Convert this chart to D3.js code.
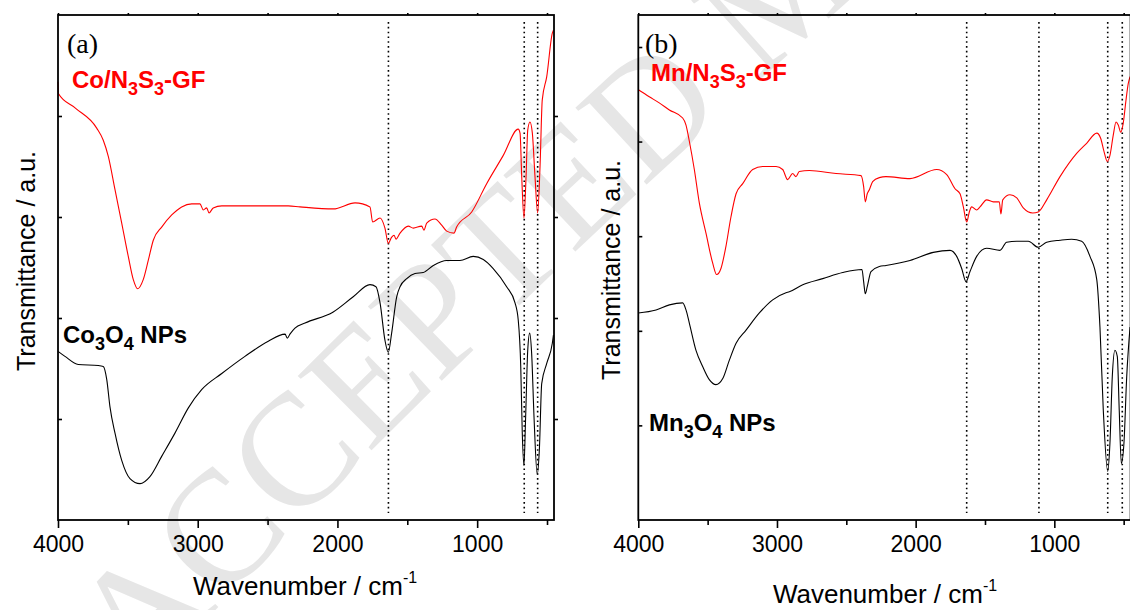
<!DOCTYPE html>
<html>
<head>
<meta charset="utf-8">
<script src="https://cdn.jsdelivr.net/npm/d3@7"></script>
<style>
  body { margin: 0; background: #fff; }
  svg { display: block; }
</style>
</head>
<body>
<svg id="chart" width="1130" height="610"></svg>
<script>
// FTIR spectra, [wavenumber cm-1, transmittance a.u.]
var coGF = [[4000,4.34],[3996,4.22],[3878,4.08],[3723,3.88],[3676,3.76],[3640,3.60],[3592,3.27],[3544,2.94],
  [3497,2.61],[3461,2.38],[3430,2.29],[3390,2.38],[3354,2.57],[3318,2.77],[3258,2.90],[3186,3.02],[3115,3.10],
  [3043,3.13],[2984,3.13],[2960,3.07],[2936,3.09],[2919,3.04],[2889,3.09],[2828,3.11],[2590,3.11],[2352,3.11],
  [2268,3.10],[2030,3.08],[1874,3.14],[1767,3.10],[1748,2.95],[1695,2.99],[1660,2.89],[1636,2.74],[1612,2.80],
  [1595,2.82],[1581,2.78],[1552,2.84],[1493,2.91],[1457,2.89],[1397,2.91],[1381,2.87],[1361,2.94],[1302,2.98],
  [1254,2.92],[1218,2.86],[1166,2.84],[1147,2.90],[1039,3.05],[932,3.33],[813,3.61],[706,3.87],[693,3.83],
  [681,3.40],[665,2.99],[650,3.40],[638,3.86],[622,3.94],[605,3.83],[586,3.40],[567,3.04],[550,3.50],
  [534,4.16],[502,4.39],[462,4.82],[454,4.85]];

var co3o4 = [[4000,1.67],[3950,1.62],[3855,1.54],[3712,1.53],[3676,1.52],[3651,1.39],[3628,1.12],[3592,0.86],
  [3544,0.59],[3485,0.41],[3413,0.36],[3342,0.43],[3258,0.63],[3163,0.86],[3067,1.11],[2972,1.29],[2828,1.45],
  [2662,1.62],[2495,1.77],[2375,1.84],[2359,1.80],[2340,1.84],[2304,1.90],[2232,1.95],[2030,2.06],[1887,2.21],
  [1767,2.33],[1724,2.31],[1695,2.15],[1660,1.78],[1636,1.66],[1612,1.85],[1576,2.21],[1552,2.31],[1504,2.39],
  [1445,2.44],[1386,2.45],[1314,2.52],[1218,2.57],[1123,2.57],[1028,2.61],[956,2.58],[885,2.49],[789,2.31],
  [729,2.15],[706,1.98],[688,1.52],[677,0.86],[665,0.54],[653,1.02],[638,1.68],[624,1.85],[610,1.65],
  [593,1.02],[570,0.45],[555,0.69],[538,1.35],[502,1.55],[462,1.75],[454,1.83]];

var mnGF = [[4000,4.26],[3921,4.19],[3849,4.13],[3776,4.06],[3680,3.98],[3656,3.91],[3632,3.75],[3596,3.47],
  [3560,3.14],[3512,2.84],[3463,2.54],[3435,2.43],[3404,2.49],[3368,2.71],[3332,3.00],[3295,3.23],[3247,3.33],
  [3175,3.47],[3103,3.50],[3007,3.50],[2959,3.47],[2923,3.37],[2887,3.43],[2863,3.40],[2839,3.45],[2767,3.46],
  [2574,3.43],[2394,3.41],[2375,3.30],[2363,3.15],[2349,3.23],[2334,3.27],[2310,3.35],[2262,3.39],[2214,3.40],
  [2041,3.38],[1848,3.47],[1776,3.42],[1716,3.28],[1680,3.23],[1656,3.10],[1632,2.95],[1613,3.05],[1596,3.10],
  [1560,3.07],[1536,3.10],[1488,3.17],[1440,3.15],[1397,3.15],[1385,3.03],[1372,3.17],[1320,3.22],[1271,3.19],
  [1224,3.09],[1156,3.04],[1116,3.05],[1055,3.17],[959,3.40],[839,3.63],[767,3.73],[694,3.83],[666,3.78],
  [642,3.65],[618,3.55],[599,3.61],[575,3.81],[555,3.94],[539,3.91],[521,3.84],[503,3.93],[483,4.16],
  [467,4.32],[454,4.39]];

var mn3o4 = [[4000,2.05],[3872,2.08],[3776,2.13],[3680,2.15],[3656,2.08],[3632,1.95],[3584,1.68],[3536,1.52],
  [3488,1.39],[3440,1.34],[3391,1.40],[3344,1.58],[3295,1.75],[3223,1.88],[3127,2.05],[3031,2.18],[2935,2.25],
  [2911,2.26],[2814,2.33],[2670,2.39],[2526,2.45],[2387,2.48],[2375,2.36],[2363,2.24],[2349,2.31],[2322,2.46],
  [2262,2.51],[2214,2.52],[2041,2.57],[1873,2.65],[1752,2.67],[1704,2.61],[1668,2.49],[1637,2.36],[1608,2.46],
  [1560,2.61],[1488,2.69],[1392,2.67],[1344,2.75],[1271,2.76],[1188,2.76],[1116,2.70],[1055,2.75],[959,2.77],
  [875,2.78],[803,2.76],[743,2.61],[694,2.38],[671,1.91],[647,1.09],[615,0.48],[599,0.76],[582,1.42],
  [563,1.68],[546,1.62],[532,1.09],[517,0.56],[498,0.76],[478,1.42],[454,1.91]];

var peaksA = [1635, 663, 567];
var peaksB = [1632, 1111, 615, 510];
var xMajor = [4000, 3000, 2000, 1000];
var xMinor = [3500, 2500, 1500, 500];
var yTicksA = [1, 2, 3, 4];
var yTicksB = [0.937, 1.873, 2.81, 3.747, 4.683];

var svg = d3.select("#chart");
var sans = "'Liberation Sans', Arial, sans-serif";
var serif = "'Liberation Serif', 'Times New Roman', serif";

// faint journal watermark behind everything
svg.append("defs").append("path").attr("id", "wm")
  .attr("d", "M140,690 Q420,390 760,80 T1280,-300");
svg.append("text").attr("font-family", serif).attr("font-size", 160)
  .attr("fill", "#e6e6e6")
  .append("textPath").attr("href", "#wm").text("ACCEPTED MANUSCRIPT");

function label(g, x, y, parts, color) {
  var t = g.append("text").attr("x", x).attr("y", y)
    .attr("font-family", sans).attr("font-weight", "bold")
    .attr("font-size", 24).attr("fill", color);
  var down = false;
  parts.forEach(function(p) {
    var sub = typeof p !== "string";
    var s = t.append("tspan").text(sub ? p[0] : p);
    if (sub && !down) { s.attr("dy", 7).attr("font-size", 18); down = true; }
    else if (sub) { s.attr("font-size", 18); }
    else if (down) { s.attr("dy", -7); down = false; }
  });
}

function panel(p) {
  var x = d3.scaleLinear().domain([4000, 450]).range([p.left, p.right]);
  var y = d3.scaleLinear().domain([0, 5]).range([520, 15]);
  var g = svg.append("g");

  // dotted peak markers
  g.selectAll(".peak").data(p.peaks).enter().append("line")
    .attr("x1", d => x(d)).attr("x2", d => x(d))
    .attr("y1", y(4.93)).attr("y2", y(0.07))
    .attr("stroke", "#000").attr("stroke-width", 1.6)
    .attr("stroke-dasharray", "1.6,3.2");

  var line = d3.line().x(d => x(d[0])).y(d => y(d[1])).curve(d3.curveMonotoneX);
  g.append("path").datum(p.top).attr("d", line)
    .attr("fill", "none").attr("stroke", "#ff0000").attr("stroke-width", 1.1);
  g.append("path").datum(p.bottom).attr("d", line)
    .attr("fill", "none").attr("stroke", "#000").attr("stroke-width", 1.1);

  // axes
  var bottom = g.append("g").attr("transform", "translate(0,520)")
    .call(d3.axisBottom(x).tickValues(xMajor).tickSize(8).tickPadding(8).tickFormat(d3.format("d")));
  g.append("g").attr("transform", "translate(0,520)")
    .call(d3.axisBottom(x).tickValues(xMinor).tickSize(5).tickFormat(""));
  g.append("g").attr("transform", "translate(0,15)")
    .call(d3.axisTop(x).tickValues(xMajor.concat(xMinor)).tickSize(2).tickFormat(""));
  g.append("g").attr("transform", "translate(" + p.left + ",0)")
    .call(d3.axisLeft(y).tickValues(p.yTicks).tickSize(-4).tickFormat(""));
  g.append("g").attr("transform", "translate(" + p.right + ",0)")
    .call(d3.axisRight(y).tickValues(p.yTicks).tickSize(4).tickFormat(""));
  g.selectAll(".domain").remove();
  g.selectAll(".tick line").attr("stroke", "#000").attr("stroke-width", 1.6);
  bottom.selectAll("text").attr("font-family", sans).attr("font-size", 23).attr("fill", "#000");

  g.append("rect").attr("x", p.left).attr("y", 15)
    .attr("width", p.right - p.left).attr("height", 505)
    .attr("fill", "none").attr("stroke", "#000").attr("stroke-width", 1.8);

  // titles
  var xt = g.append("text").attr("x", p.xTitleX).attr("y", p.xTitleY)
    .attr("text-anchor", "middle").attr("font-family", sans).attr("font-size", 26);
  xt.append("tspan").text("Wavenumber / cm");
  xt.append("tspan").text("-1").attr("font-size", 16).attr("dy", -12);

  g.append("text").attr("transform", "translate(" + p.yTitleX + "," + p.yTitleY + ") rotate(-90)")
    .attr("text-anchor", "middle").attr("font-family", sans).attr("font-size", 25)
    .text("Transmittance / a.u.");

  g.append("text").attr("x", p.tagX).attr("y", p.tagY)
    .attr("font-family", serif).attr("font-size", 28).text(p.tag);

  label(g, p.topLab[0], p.topLab[1], p.topParts, "#ff0000");
  label(g, p.botLab[0], p.botLab[1], p.botParts, "#000");
}

panel({
  left: 58, right: 554, top: coGF, bottom: co3o4, peaks: peaksA, yTicks: yTicksA,
  xTitleX: 305, xTitleY: 595, yTitleX: 35, yTitleY: 261,
  tag: "(a)", tagX: 67, tagY: 53,
  topLab: [72, 88], topParts: ["Co/N", ["3"], "S", ["3"], "-GF"],
  botLab: [63, 343], botParts: ["Co", ["3"], "O", ["4"], " NPs"]
});

panel({
  left: 638.3, right: 1130.6, top: mnGF, bottom: mn3o4, peaks: peaksB, yTicks: yTicksB,
  xTitleX: 885, xTitleY: 603, yTitleX: 620, yTitleY: 270,
  tag: "(b)", tagX: 645, tagY: 53,
  topLab: [651, 81], topParts: ["Mn/N", ["3"], "S", ["3"], "-GF"],
  botLab: [649, 431], botParts: ["Mn", ["3"], "O", ["4"], " NPs"]
});
</script>
</body>
</html>
